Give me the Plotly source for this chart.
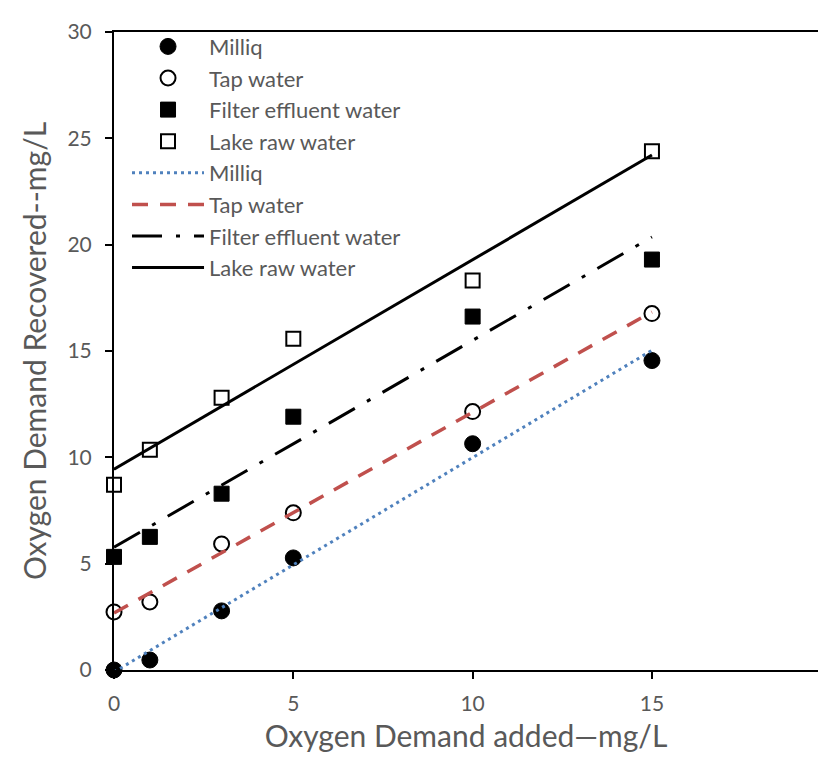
import numpy as np
import plotly.graph_objects as go

# Data
x_added = [0, 1, 3, 5, 10, 15]
milliq = [0.0, 0.47, 2.78, 5.27, 10.64, 14.55]
tap_water = [2.73, 3.2, 5.93, 7.39, 12.15, 16.76]
filter_effluent = [5.32, 6.26, 8.29, 11.91, 16.62, 19.3]
lake_raw = [8.71, 10.36, 12.8, 15.58, 18.31, 24.39]

series_names = ["Milliq", "Tap water", "Filter effluent water", "Lake raw water"]
x_ticks = [0, 5, 10, 15]
y_ticks = [0, 5, 10, 15, 20, 25, 30]

FONT = "Lato"
GREY = "#595959"

fig = go.Figure()

marker_styles = [
    dict(symbol="circle", size=16, color="black", line=dict(color="black", width=1)),
    dict(symbol="circle-open", size=15, color="black", line=dict(color="black", width=2)),
    dict(symbol="square", size=15, color="black", line=dict(color="black", width=1)),
    dict(symbol="square-open", size=14, color="black", line=dict(color="black", width=2)),
]
line_styles = [
    dict(color="#4F81BD", width=3, dash="3px,4px"),
    dict(color="#C0504D", width=3.5, dash="16px,12px"),
    dict(color="black", width=3, dash="30px,14px,4px,14px"),
    dict(color="black", width=3, dash="solid"),
]
data = [milliq, tap_water, filter_effluent, lake_raw]

for i, (name, ys) in enumerate(zip(series_names, data)):
    fig.add_trace(go.Scatter(
        x=x_added, y=ys, mode="markers", name=name,
        marker=marker_styles[i], cliponaxis=False,
        legendgroup=f"m{i}",
    ))

fit_x = [x_added[0], x_added[-1]]
for i, (name, ys) in enumerate(zip(series_names, data)):
    slope, intercept = np.polyfit(x_added, ys, 1)
    fit_y = [slope * v + intercept for v in fit_x]
    fig.add_trace(go.Scatter(
        x=fit_x, y=fit_y, mode="lines", name=name,
        line=line_styles[i], cliponaxis=False,
        legendgroup=f"l{i}",
    ))

fig.update_layout(
    width=818, height=757,
    margin=dict(l=114, r=0, t=32, b=87),
    paper_bgcolor="white", plot_bgcolor="white",
    font=dict(family=FONT, color=GREY),
    showlegend=True,
    legend=dict(
        x=0.0185, y=1.01, xanchor="left", yanchor="top",
        font=dict(family=FONT, size=22, color=GREY),
        bgcolor="rgba(0,0,0,0)",
        traceorder="grouped", tracegroupgap=0,
        itemwidth=72,
    ),
    xaxis=dict(
        range=[0, 19.63], tickvals=x_ticks, ticktext=[str(v) for v in x_ticks],
        showgrid=False, zeroline=False,
        showline=True, linecolor="black", linewidth=2, mirror=True,
        ticks="outside", ticklen=7, tickwidth=2, tickcolor="black",
        ticklabelstandoff=7,
        tickfont=dict(family=FONT, size=21, color=GREY),
        title=dict(text="Oxygen Demand added\u2014mg/L",
                   font=dict(family=FONT, size=30, color=GREY), standoff=12),
    ),
    yaxis=dict(
        range=[0, 30], tickvals=y_ticks, ticktext=[str(v) for v in y_ticks],
        showgrid=False, zeroline=False,
        showline=True, linecolor="black", linewidth=2,
        ticks="outside", ticklen=7, tickwidth=2, tickcolor="black",
        ticklabelstandoff=9,
        tickfont=dict(family=FONT, size=21, color=GREY),
        title=dict(text="Oxygen Demand Recovered--mg/L",
                   font=dict(family=FONT, size=30, color=GREY), standoff=12),
    ),
)

fig.write_html("out.html")
